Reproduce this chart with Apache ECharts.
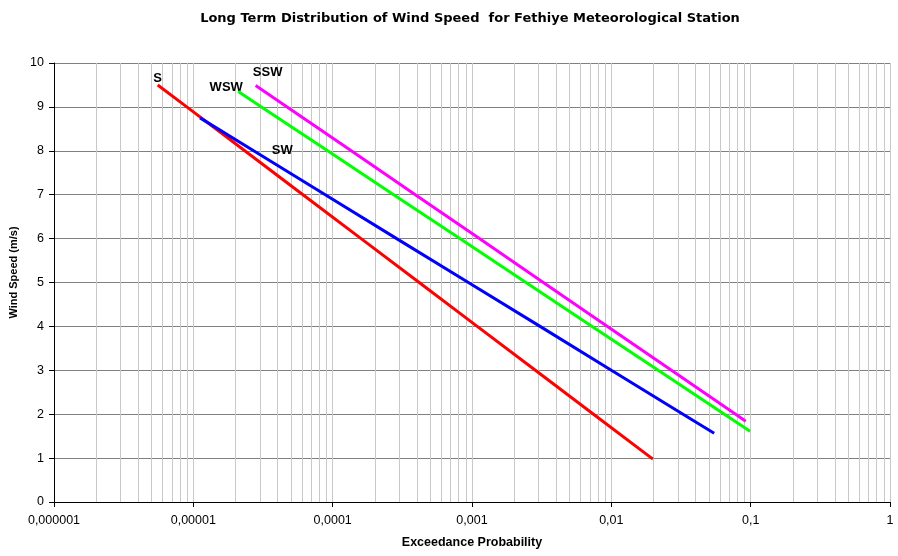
<!DOCTYPE html>
<html>
<head>
<meta charset="utf-8">
<script src="https://cdn.jsdelivr.net/npm/echarts@6/dist/echarts.min.js"></script>
<style>html,body{margin:0;padding:0;background:#fff}#c{width:898px;height:556px}</style>
</head>
<body>
<div id="c"></div>
<script>
var seriesNames = ['S', 'SW', 'WSW', 'SSW'];
var seriesColors = ['#ff0000', '#0000ff', '#00ff00', '#ff00ff'];

// Exceedance probability (x) and wind speed (y)
var probS   = [5.55e-6, 8.97e-6, 2.34e-5, 6.12e-5, 1.60e-4, 4.18e-4, 1.09e-3, 2.85e-3, 7.45e-3, 0.01945, 0.0199];
var speedS  = [9.5, 9, 8, 7, 6, 5, 4, 3, 2, 1, 0.98];
var probSW  = [1.117e-5, 2.71e-5, 8.85e-5, 2.88e-4, 9.42e-4, 3.08e-3, 1.00e-2, 0.0327, 0.0547];
var speedSW = [8.75, 8, 7, 6, 5, 4, 3, 2, 1.565];
var probWSW = [2.1e-5, 3.08e-5, 9.2e-5, 2.74e-4, 8.18e-4, 2.44e-3, 7.28e-3, 0.0217, 0.0648, 0.099];
var speedWSW= [9.35, 9, 8, 7, 6, 5, 4, 3, 2, 1.61];
var probSSW = [2.8e-5, 4.71e-5, 1.36e-4, 3.92e-4, 1.13e-3, 3.25e-3, 9.38e-3, 0.0270, 0.0780, 0.0922];
var speedSSW= [9.49, 9, 8, 7, 6, 5, 4, 3, 2, 1.84];

var xTickLabels = ['0,000001', '0,00001', '0,0001', '0,001', '0,01', '0,1', '1'];
var yTicks = [0, 1, 2, 3, 4, 5, 6, 7, 8, 9, 10];
var labelAnchorSW = [4.35e-5, 8];

function pairs(xs, ys) { return xs.map(function (x, i) { return [x, ys[i]]; }); }
var allData = [pairs(probS, speedS), pairs(probSW, speedSW), pairs(probWSW, speedWSW), pairs(probSSW, speedSSW)];

// minor log grid positions 2..9 per decade
var minorX = [];
for (var e = -6; e < 0; e++) {
  for (var k = 2; k <= 9; k++) minorX.push([k * Math.pow(10, e)]);
}

var labelFont = { fontFamily: 'Liberation Sans, Arial, sans-serif', fontWeight: 'bold', fontSize: 13, color: '#000' };
var labelOffsets = [[0, -7], [0, 0], [-12, -4], [12, -13]];

var series = [{
  type: 'custom', z: 1, silent: true, animation: false,
  data: minorX,
  encode: { x: 0 },
  renderItem: function (params, api) {
    var x = api.value(0);
    var p1 = api.coord([x, yTicks[0]]);
    var p2 = api.coord([x, yTicks[yTicks.length - 1]]);
    var px = Math.round(p1[0]) + 0.5;
    return { type: 'line', shape: { x1: px, y1: p1[1], x2: px, y2: p2[1] }, style: { stroke: '#c8c8c8', lineWidth: 1 } };
  }
}];

allData.forEach(function (d, i) {
  var anchor = i === 1 ? labelAnchorSW : d[0];
  series.push({
    name: seriesNames[i],
    type: 'line',
    data: d,
    z: 10,
    showSymbol: false,
    symbol: 'none',
    lineStyle: { color: seriesColors[i], width: 3 },
    itemStyle: { color: seriesColors[i] },
    animation: false,
    markPoint: {
      symbol: 'circle', symbolSize: 0,
      silent: true,
      data: [{ coord: anchor, label: Object.assign({ show: true, formatter: seriesNames[i], position: 'inside', offset: labelOffsets[i] }, labelFont) }]
    }
  });
});

var chart = echarts.init(document.getElementById('c'));
chart.setOption({
  animation: false,
  backgroundColor: '#fff',
  title: {
    text: 'Long Term Distribution of Wind Speed  for Fethiye Meteorological Station',
    left: 465, top: 7, textAlign: 'center',
    textStyle: { fontFamily: 'DejaVu Sans, sans-serif', fontWeight: 'bold', fontSize: 13, color: '#000' }
  },
  grid: { left: 54, right: 8, top: 63, bottom: 54 },
  xAxis: {
    type: 'log', logBase: 10, min: 1e-6, max: 1,
    name: 'Exceedance Probability', nameLocation: 'middle', nameGap: 34,
    nameTextStyle: { fontFamily: 'Liberation Sans, Arial, sans-serif', fontWeight: 'bold', fontSize: 12.5, color: '#000' },
    axisLine: { lineStyle: { color: '#000', width: 1 } },
    axisTick: { show: true, length: 5, lineStyle: { color: '#000' } },
    axisLabel: {
      margin: 12, color: '#000', fontSize: 12.5, fontFamily: 'Liberation Sans, Arial, sans-serif',
      formatter: function (v) { var i = Math.round(Math.log10(v)) + 6; return xTickLabels[i] || ''; }
    },
    splitLine: { show: true, lineStyle: { color: '#c8c8c8', width: 1 } }
  },
  yAxis: {
    type: 'value', min: yTicks[0], max: yTicks[yTicks.length - 1], interval: 1,
    name: 'Wind Speed (m/s)', nameLocation: 'middle', nameGap: 31,
    nameTextStyle: { fontFamily: 'Liberation Sans, Arial, sans-serif', fontWeight: 'bold', fontSize: 11, color: '#000', padding: [0, 0, 0, 20] },
    axisLine: { show: true, lineStyle: { color: '#000', width: 1 } },
    axisTick: { show: true, length: 5, lineStyle: { color: '#000' } },
    axisLabel: { margin: 10, color: '#000', fontSize: 12.5, fontFamily: 'Liberation Sans, Arial, sans-serif' },
    splitLine: { show: true, lineStyle: { color: '#808080', width: 1 } }
  },
  series: series
});
</script>
</body>
</html>
